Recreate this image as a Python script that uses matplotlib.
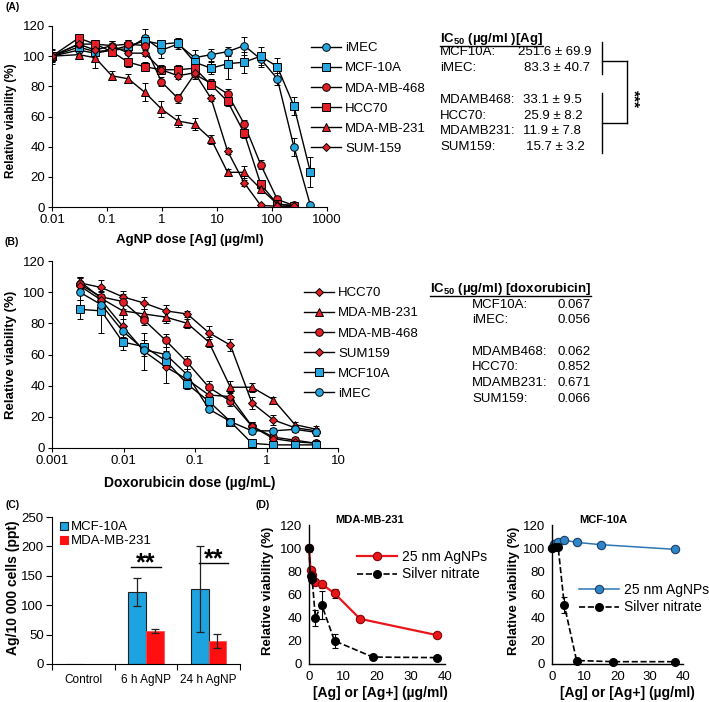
import numpy as np
import matplotlib.pyplot as plt
from matplotlib.lines import Line2D
from matplotlib.transforms import IdentityTransform

plt.rcParams['font.family'] = ['Liberation Sans', 'DejaVu Sans']
plt.rcParams['mathtext.fontset'] = 'custom'
plt.rcParams['mathtext.rm'] = 'Liberation Sans'
plt.rcParams['mathtext.bf'] = 'Liberation Sans:bold'

# ---- data: panel A (AgNP dose response) ----
dose_a = [0.01, 0.0305, 0.061, 0.122, 0.244, 0.488, 0.977, 1.95, 3.91, 7.81,
          15.6, 31.25, 62.5, 125, 250, 500]
imec_a = [100, 104, 102, 104, 105, 112, 104, 108, 99, 101, 103, 107, 98, 85, 40, 1]
imec_a_err = [3, 4, 3, 3, 4, 6, 5, 3, 5, 4, 3, 6, 5, 4, 6, 1]
mcf_a = [100, 106, 103, 104, 107, 110, 108, 109, 96, 92, 95, 96, 100, 93, 67, 23]
mcf_a_err = [5, 3, 3, 3, 4, 4, 3, 3, 5, 4, 10, 7, 6, 6, 6, 10]
mda468_a = [100, 108, 108, 107, 108, 107, 83, 72, 88, 82, 75, 55, 28, 5, 1]
mda468_a_err = [3, 3, 3, 3, 3, 4, 3, 3, 3, 3, 3, 3, 3, 2, 1]
hcc70_a = [100, 112, 108, 103, 96, 93, 91, 91, 92, 81, 70, 49, 15, 2, 0.5]
hcc70_a_err = [3, 2, 3, 3, 3, 3, 3, 3, 3, 3, 3, 3, 3, 2, 1]
mda231_a = [100, 101, 99, 87, 85, 76, 65, 57, 55, 45, 23, 23, 12, 2, 1]
mda231_a_err = [4, 3, 7, 3, 3, 6, 5, 4, 4, 3, 2, 4, 3, 1, 1]
sum159_a = [100, 108, 104, 107, 102, 102, 91, 87, 89, 72, 37, 16, 1, 0.5, 0.5]
sum159_a_err = [2, 2, 3, 3, 3, 2, 2, 2, 3, 2, 2, 2, 1, 1, 1]

ic50_a_names = ["MCF10A:", "iMEC:", "MDAMB468:", "HCC70:", "MDAMB231:", "SUM159:"]
ic50_a_mean = [251.6, 83.3, 33.1, 25.9, 11.9, 15.7]
ic50_a_sd = [69.9, 40.7, 9.5, 8.2, 7.8, 3.2]

# ---- data: panel B (doxorubicin) ----
dose_b = [0.00244, 0.00488, 0.00977, 0.0195, 0.039, 0.078, 0.156, 0.3125,
          0.625, 1.25, 2.5, 5]
hcc70_b = [106, 103, 97, 93, 88, 86, 74, 66, 29, 18, 13, 11]
hcc70_b_err = [4, 5, 4, 4, 4, 2, 4, 4, 4, 3, 2, 2]
mda231_b = [107, 96, 88, 86, 84, 80, 68, 39, 39, 31, 15, 12]
mda231_b_err = [3, 4, 5, 3, 4, 3, 3, 4, 3, 2, 2, 2]
mda468_b = [105, 97, 94, 82, 69, 55, 39, 30, 14, 7, 5, 3]
mda468_b_err = [4, 4, 5, 3, 4, 4, 4, 3, 3, 2, 2, 2]
sum159_b = [104, 95, 78, 62, 52, 44, 34, 33, 14, 6, 4, 3]
sum159_b_err = [3, 4, 8, 12, 10, 5, 3, 3, 3, 3, 2, 2]
mcf_b = [89, 88, 68, 65, 56, 41, 30, 17, 3, 2, 2, 2]
mcf_b_err = [6, 14, 5, 4, 4, 3, 3, 2, 1, 1, 1, 1]
imec_b = [100, 92, 75, 63, 60, 47, 25, 17, 11, 11, 12, 10]
imec_b_err = [5, 6, 4, 4, 5, 4, 2, 2, 2, 2, 2, 2]

ic50_b_names = ["MCF10A:", "iMEC:", "MDAMB468:", "HCC70:", "MDAMB231:", "SUM159:"]
ic50_b_vals = ["0.067", "0.056", "0.062", "0.852", "0.671", "0.066"]

# ---- data: panel C (uptake) ----
groups_c = ["Control", "6 h AgNP", "24 h AgNP"]
mcf_c = [0.4, 123, 128]
mcf_c_err = [np.nan, 24, 73]
mda_c = [0.4, 56, 39]
mda_c_err = [np.nan, 4, 12]

# ---- data: panel D ----
conc_np = [0, 0.47, 0.94, 1.875, 3.75, 7.5, 15, 37.5]
mda_np = [100, 81, 77, 71, 69, 61, 39, 25]
mda_np_err = [0, 3, 4, 2, 3, 4, 2, 2]
conc_ag_l = [0, 0.47, 0.94, 1.875, 3.75, 7.5, 18.75, 37.5]
mda_ag = [100, 76, 73, 40, 51, 20, 6, 5.5]
mda_ag_err = [3, 4, 3, 7, 12, 6, 1, 1]
mcf_np = [100, 104, 104, 105, 107, 105, 103, 99]
mcf_np_err = [1, 1, 1, 1, 1, 1, 1, 1]
conc_ag_r = [0, 0.94, 1.875, 3.75, 7.5, 18.75, 37.5]
mcf_ag = [100, 101, 101, 51, 3, 2, 2]
mcf_ag_err = [1, 1, 1, 7, 1, 1, 1]

BLUE = '#25A6DE'
RED = '#E31E26'

W, H = 709, 702
fig = plt.figure(figsize=(W / 100, H / 100), dpi=100)


def add_ax(l, t, r, b):
    return fig.add_axes([l / W, 1 - b / H, (r - l) / W, (b - t) / H])


def ftext(x, y, s, **kw):
    return fig.text(x / W, 1 - y / H, s, **kw)


def fline(xs, ys, **kw):
    fig.add_artist(Line2D([x / W for x in xs], [1 - y / H for y in ys],
                          transform=fig.transFigure, color='k', lw=1, **kw))


def style(ax, length=3):
    for s in ['top', 'right']:
        ax.spines[s].set_visible(False)
    for s in ['left', 'bottom']:
        ax.spines[s].set_linewidth(0.8)
    ax.tick_params(direction='out', length=length, width=0.8, labelsize=9.5, pad=2)


def curve(ax, x, y, e, mk, col, ms=5.5):
    ax.errorbar(x[:len(y)], y, yerr=e, color='k', lw=1, marker=mk, mfc=col,
                mec='k', mew=0.7, ms=ms, ecolor='k', elinewidth=0.7,
                capsize=2, capthick=0.7)


# ================= panel A =================
axa = add_ax(52, 26, 327, 207)
curve(axa, dose_a, imec_a, imec_a_err, 'o', BLUE)
curve(axa, dose_a, mcf_a, mcf_a_err, 's', BLUE)
curve(axa, dose_a, mda468_a, mda468_a_err, 'o', RED)
curve(axa, dose_a, hcc70_a, hcc70_a_err, 's', RED)
curve(axa, dose_a, mda231_a, mda231_a_err, '^', RED)
curve(axa, dose_a, sum159_a, sum159_a_err, 'D', RED, ms=3.8)
axa.set_xscale('log')
axa.set_xlim(0.01, 1000)
axa.set_ylim(0, 120)
axa.set_xticks([0.01, 0.1, 1, 10, 100, 1000])
axa.set_xticklabels(['0.01', '0.1', '1', '10', '100', '1000'])
axa.minorticks_off()
axa.set_yticks(range(0, 121, 20))
style(axa)

h_a = [Line2D([], [], color='k', lw=1, marker=m, mfc=c, mec='k', mew=0.7, ms=s)
       for m, c, s in [('o', BLUE, 5.5), ('s', BLUE, 5.5), ('o', RED, 5.5),
                       ('s', RED, 5.5), ('^', RED, 5.5), ('D', RED, 3.8)]]
fig.legend(h_a, ['iMEC', 'MCF-10A', 'MDA-MB-468', 'HCC70', 'MDA-MB-231', 'SUM-159'],
           loc='upper left', bbox_to_anchor=(311 / W, 1 - 42 / H), frameon=False,
           fontsize=9.5, handlelength=2.3, handletextpad=0.3, labelspacing=0.6,
           borderpad=0, borderaxespad=0)

ftext(13, 7, '(A)', fontsize=7.5, fontweight='bold', ha='center', va='center')
ftext(11, 121, 'Relative viability (%)', fontsize=8.5, fontweight='bold',
      rotation=90, ha='center', va='center')
ftext(190, 240, 'AgNP dose [Ag] (µg/ml)', fontsize=9.5, fontweight='bold',
      ha='center', va='center')

hdr_a = ftext(440, 41.7, r'IC$_{\mathbf{50}}$ (µg/ml )[Ag]', fontsize=9.5,
              fontweight='bold', ha='left', va='baseline')
rows_a = [52, 68, 100, 116, 131, 147]
valx_a = [518, 524, 523, 524, 523, 526]
for nm, m, s, y, vx in zip(ic50_a_names, ic50_a_mean, ic50_a_sd, rows_a, valx_a):
    ftext(440, y, nm, fontsize=9.5, ha='left', va='center')
    ftext(vx, y, f'{m} ± {s}', fontsize=9.5, ha='left', va='center')
fline([602, 602], [42, 74])
fline([602, 602], [93, 153])
fline([602, 627], [61, 61])
fline([602, 627], [123, 123])
fline([627, 627], [61, 123])
ftext(634, 99, '***', fontsize=11, fontweight='bold', rotation=270,
      ha='center', va='center')

# ================= panel B =================
axb = add_ax(52, 261, 338, 448)
curve(axb, dose_b, hcc70_b, hcc70_b_err, 'D', RED, ms=3.8)
curve(axb, dose_b, mda231_b, mda231_b_err, '^', RED)
curve(axb, dose_b, mda468_b, mda468_b_err, 'o', RED)
curve(axb, dose_b, sum159_b, sum159_b_err, 'D', RED, ms=3.8)
curve(axb, dose_b, mcf_b, mcf_b_err, 's', BLUE)
curve(axb, dose_b, imec_b, imec_b_err, 'o', BLUE)
axb.set_xscale('log')
axb.set_xlim(0.001, 10)
axb.set_ylim(0, 120)
axb.set_xticks([0.001, 0.01, 0.1, 1, 10])
axb.set_xticklabels(['0.001', '0.01', '0.1', '1', '10'])
axb.minorticks_off()
axb.set_yticks(range(0, 121, 20))
style(axb)

h_b = [Line2D([], [], color='k', lw=1, marker=m, mfc=c, mec='k', mew=0.7, ms=s)
       for m, c, s in [('D', RED, 3.8), ('^', RED, 5.5), ('o', RED, 5.5),
                       ('D', RED, 3.8), ('s', BLUE, 5.5), ('o', BLUE, 5.5)]]
fig.legend(h_b, ['HCC70', 'MDA-MB-231', 'MDA-MB-468', 'SUM159', 'MCF10A', 'iMEC'],
           loc='upper left', bbox_to_anchor=(304 / W, 1 - 287 / H), frameon=False,
           fontsize=9.5, handlelength=2.3, handletextpad=0.3, labelspacing=0.6,
           borderpad=0, borderaxespad=0)

ftext(12, 242, '(B)', fontsize=7.5, fontweight='bold', ha='center', va='center')
ftext(11, 355, 'Relative viability (%)', fontsize=9.5, fontweight='bold',
      rotation=90, ha='center', va='center')
ftext(190, 483, 'Doxorubicin dose (µg/mL)', fontsize=10, fontweight='bold',
      ha='center', va='center')

hdr_b = ftext(430, 292, r'IC$_{\mathbf{50}}$ (µg/ml) [doxorubicin]', fontsize=9.5,
              fontweight='bold', ha='left', va='baseline')
rows_b = [305, 320, 352, 367, 383, 399]
for nm, v, y in zip(ic50_b_names, ic50_b_vals, rows_b):
    ftext(472, y, nm, fontsize=9.5, ha='left', va='center')
    ftext(557, y, v, fontsize=9.5, ha='left', va='center')

# ================= panel C =================
axc = add_ax(52, 517, 240, 664)
xc = np.arange(len(groups_c))
bw = 0.28
axc.bar(xc - bw / 2, mcf_c, bw, yerr=mcf_c_err, color='#1DA4E0', edgecolor='#202020',
        lw=0.8, capsize=3, error_kw=dict(elinewidth=0.9, capthick=0.9, ecolor='#202020'))
axc.bar(xc + bw / 2, mda_c, bw, yerr=mda_c_err, color='#FF0F0F', edgecolor='#FF5050',
        lw=0.6, capsize=3, error_kw=dict(elinewidth=0.9, capthick=0.9, ecolor='#202020'))
axc.set_xlim(-0.5, 2.5)
axc.set_ylim(0, 250)
axc.set_yticks(range(0, 251, 50))
axc.set_xticks(xc)
axc.set_xticklabels(groups_c, fontsize=8.5)
axc.set_xticks([-0.5, 0.5, 1.5, 2.5], minor=True)
style(axc)
axc.tick_params(axis='x', which='major', length=0, pad=7, labelsize=8.5)
axc.tick_params(axis='x', which='minor', length=4, width=0.8, direction='out')
axc.tick_params(axis='y', length=4)
for (x0, x1), yl in zip([(0.76, 1.24), (1.85, 2.31)], [165, 172]):
    axc.plot([x0, x1], [yl, yl], color='k', lw=1)
    axc.text((x0 + x1) / 2, yl - 14, '**', fontsize=18, fontweight='bold',
             ha='center', va='bottom')

h_c = [Line2D([], [], ls='none', marker='s', mfc='#1DA4E0', mec='#202020', mew=0.8, ms=6),
       Line2D([], [], ls='none', marker='s', mfc='#FF0F0F', mec='#FF0F0F', mew=0.8, ms=6)]
fig.legend(h_c, ['MCF-10A', 'MDA-MB-231'], loc='upper left',
           bbox_to_anchor=(60 / W, 1 - 521 / H), frameon=False, fontsize=9.5,
           handlelength=0.6, handletextpad=0.25, labelspacing=0.15,
           borderpad=0, borderaxespad=0)

ftext(13, 505, '(C)', fontsize=7.5, fontweight='bold', ha='center', va='center')
ftext(13, 588, 'Ag/10 000 cells (ppt)', fontsize=10, fontweight='bold',
      rotation=90, ha='center', va='center')

# ================= panel D =================
def style_d(ax):
    for s in ['top', 'right']:
        ax.spines[s].set_visible(False)
    for s in ['left', 'bottom']:
        ax.spines[s].set_linewidth(1.0)
    ax.tick_params(length=0, labelsize=9.5, pad=5)
    ax.set_xlim(0, 40)
    ax.set_ylim(0, 120)
    ax.set_xticks(range(0, 41, 10))
    ax.set_yticks(range(0, 121, 20))


axd1 = add_ax(309, 525, 445, 664)
axd1.errorbar(conc_np, mda_np, yerr=mda_np_err, color='#E8151B', lw=1.6, marker='o',
              mfc='#E8151B', mec='#8B0000', mew=0.8, ms=6, ecolor='k',
              elinewidth=0.8, capsize=2.5, capthick=0.8, clip_on=False)
axd1.errorbar(conc_ag_l, mda_ag, yerr=mda_ag_err, color='k', lw=1.2, ls='--',
              marker='o', mfc='k', mec='k', ms=5.5, ecolor='k', elinewidth=0.8,
              capsize=2.5, capthick=0.8, clip_on=False)
style_d(axd1)

axd2 = add_ax(552, 525, 683, 664)
axd2.errorbar(conc_np, mcf_np, yerr=mcf_np_err, color='#2E75B6', lw=1.1, marker='o',
              mfc='#2E86C8', mec='#1F3F66', mew=0.8, ms=6, ecolor='k',
              elinewidth=0.8, capsize=2.5, capthick=0.8, clip_on=False)
axd2.errorbar(conc_ag_r, mcf_ag, yerr=mcf_ag_err, color='k', lw=1.2, ls='--',
              marker='o', mfc='k', mec='k', ms=5.5, ecolor='k', elinewidth=0.8,
              capsize=2.5, capthick=0.8, clip_on=False)
style_d(axd2)

h_d1 = [Line2D([], [], color='#E8151B', lw=1.6, marker='o', mfc='#E8151B',
               mec='#8B0000', mew=0.8, ms=6),
        Line2D([], [], color='k', lw=1.2, ls='--', marker='o', mfc='k', ms=5.5)]
fig.legend(h_d1, ['25 nm AgNPs', 'Silver nitrate'], loc='upper left',
           bbox_to_anchor=(357 / W, 1 - 550 / H), frameon=False, fontsize=10,
           handlelength=2.9, handletextpad=0.35, labelspacing=0.25,
           borderpad=0, borderaxespad=0)
h_d2 = [Line2D([], [], color='#2E75B6', lw=1.1, marker='o', mfc='#2E86C8',
               mec='#1F3F66', mew=0.8, ms=6),
        Line2D([], [], color='k', lw=1.2, ls='--', marker='o', mfc='k', ms=5.5)]
fig.legend(h_d2, ['25 nm AgNPs', 'Silver nitrate'], loc='upper left',
           bbox_to_anchor=(579 / W, 1 - 583 / H), frameon=False, fontsize=10,
           handlelength=2.9, handletextpad=0.35, labelspacing=0.25,
           borderpad=0, borderaxespad=0)

ftext(263, 505, '(D)', fontsize=7.5, fontweight='bold', ha='center', va='center')
ftext(370, 520, 'MDA-MB-231', fontsize=8, fontweight='bold', ha='center', va='center')
ftext(603, 520, 'MCF-10A', fontsize=8, fontweight='bold', ha='center', va='center')
for xl in [268, 514]:
    ftext(xl, 591, 'Relative viability (%)', fontsize=9.5, fontweight='bold',
          rotation=90, ha='center', va='center')
for xc_ in [380, 627]:
    ftext(xc_, 693, '[Ag] or [Ag+] (µg/ml)', fontsize=10, fontweight='bold',
          ha='center', va='center')

# underline the IC50 headers
fig.canvas.draw()
for t in [hdr_a, hdr_b]:
    bb = t.get_window_extent()
    fig.add_artist(Line2D([bb.x0, bb.x1], [bb.y0 + 1.2, bb.y0 + 1.2],
                          transform=IdentityTransform(), color='k', lw=1))

fig.savefig('out.png', dpi=100)
